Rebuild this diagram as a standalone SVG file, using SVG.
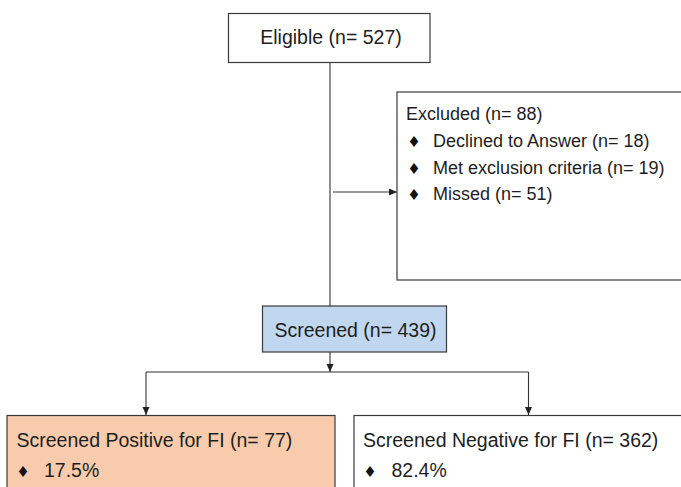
<svg xmlns="http://www.w3.org/2000/svg" width="681" height="487" viewBox="0 0 681 487">
<defs>
<marker id="ah" markerUnits="userSpaceOnUse" markerWidth="9" markerHeight="8" refX="8" refY="3.5" orient="auto">
<path d="M0,0 L8,3.5 L0,7 z" fill="#222"/>
</marker>
<style>
.box{stroke:#3a3a3a;stroke-width:1.2}
.t{font-family:"Liberation Sans",Arial,sans-serif;fill:#1e1e1e}
.big{font-size:19.5px}
.sm{font-size:18px}
.bul{font-family:"DejaVu Sans",sans-serif;fill:#111;font-size:15px}
.ln{stroke:#333;stroke-width:1.1;fill:none}
</style>
</defs>
<rect width="681" height="487" fill="#ffffff"/>
<g id="connectors">
<line class="ln" x1="330" y1="62" x2="330" y2="306"/>
<line class="ln" x1="333" y1="192" x2="397" y2="192" marker-end="url(#ah)"/>
<line class="ln" x1="330" y1="352" x2="330" y2="372" marker-end="url(#ah)"/>
<line class="ln" x1="146" y1="372" x2="528.5" y2="372"/>
<line class="ln" x1="146" y1="372" x2="146" y2="415" marker-end="url(#ah)"/>
<line class="ln" x1="528.5" y1="372" x2="528.5" y2="415" marker-end="url(#ah)"/>
</g>
<g id="eligible">
<rect class="box" x="228.5" y="13.5" width="201.5" height="49" fill="#ffffff"/>
<text class="t big" x="331" y="44" text-anchor="middle">Eligible (n= 527)</text>
</g>
<g id="excluded">
<rect class="box" x="397" y="92" width="300" height="188" fill="#ffffff"/>
<text class="t sm" x="406" y="120">Excluded (n= 88)</text>
<text class="bul" x="414" y="147" text-anchor="middle">♦</text>
<text class="t sm" x="433" y="147">Declined to Answer (n= 18)</text>
<text class="bul" x="414" y="174" text-anchor="middle">♦</text>
<text class="t sm" x="433" y="174">Met exclusion criteria (n= 19)</text>
<text class="bul" x="414" y="200" text-anchor="middle">♦</text>
<text class="t sm" x="433" y="200">Missed (n= 51)</text>
</g>
<g id="screened">
<rect class="box" x="262.5" y="306" width="184" height="46" fill="#c0d7ef"/>
<text class="t big" x="355.5" y="336.5" text-anchor="middle">Screened (n= 439)</text>
</g>
<g id="positive">
<rect class="box" x="7" y="415.5" width="328" height="90" fill="#f8cbad"/>
<text class="t big" x="16.5" y="447">Screened Positive for FI (n= 77)</text>
<text class="bul" x="23" y="477" text-anchor="middle">♦</text>
<text class="t big" x="44" y="477">17.5%</text>
</g>
<g id="negative">
<rect class="box" x="354" y="415.5" width="340" height="90" fill="#ffffff"/>
<text class="t big" x="363" y="447">Screened Negative for FI (n= 362)</text>
<text class="bul" x="370" y="477" text-anchor="middle">♦</text>
<text class="t big" x="391.5" y="477">82.4%</text>
</g>
</svg>
